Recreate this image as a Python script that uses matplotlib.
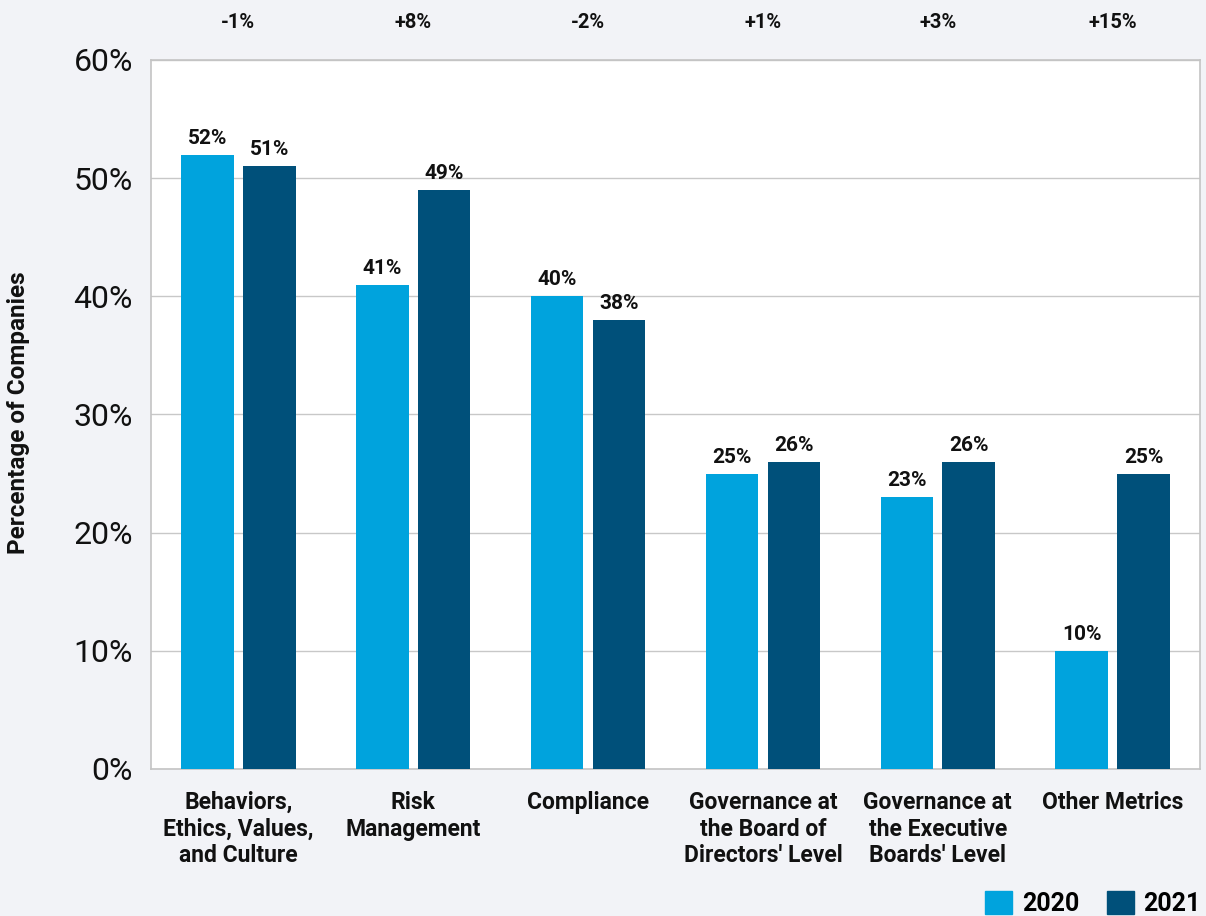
import numpy as np
import matplotlib
matplotlib.use("Agg")
import matplotlib.pyplot as plt
import matplotlib.transforms as mtransforms
from matplotlib.patches import Patch

plt.rcParams["font.family"] = ["Roboto", "DejaVu Sans"]

# данные
categories = [
    "Behaviors,\nEthics, Values,\nand Culture",
    "Risk\nManagement",
    "Compliance",
    "Governance at\nthe Board of\nDirectors' Level",
    "Governance at\nthe Executive\nBoards' Level",
    "Other Metrics",
]
values_2020 = [52, 41, 40, 25, 23, 10]
values_2021 = [51, 49, 38, 26, 26, 25]
changes = ["-1%", "+8%", "-2%", "+1%", "+3%", "+15%"]
y_ticks = [0, 10, 20, 30, 40, 50, 60]

c2020 = "#00a3dd"
c2021 = "#00507a"
bg = "#f2f3f7"

fig = plt.figure(figsize=(12.06, 9.16), dpi=100, facecolor=bg)
ax = fig.add_axes([0.1252, 0.1605, 0.8698, 0.774])
ax.set_facecolor("white")

x = np.arange(len(categories))
w = 0.30
off = 0.177
b1 = ax.bar(x - off, values_2020, w, color=c2020, zorder=3)
b2 = ax.bar(x + off, values_2021, w, color=c2021, zorder=3)

for bars in (b1, b2):
    for b in bars:
        ax.annotate(f"{b.get_height():.0f}%",
                    (b.get_x() + b.get_width() / 2, b.get_height()),
                    xytext=(0, 5), textcoords="offset points",
                    ha="center", va="bottom", fontsize=15, fontweight="bold",
                    color="#111111")

# изменения сверху
top_tr = mtransforms.blended_transform_factory(ax.transData, fig.transFigure)
for i, ch in enumerate(changes):
    ax.text(i, 1 - 22 / 916, ch, transform=top_tr,
            ha="center", va="center", fontsize=14.5, fontweight="bold",
            color="#111111")

ax.set_xlim(-0.5, len(categories) - 0.5)
ax.set_ylim(0, 60)
ax.set_yticks(y_ticks)
ax.set_yticklabels([f"{v}%" for v in y_ticks], fontsize=23, color="#111111")
ax.set_xticks(x)
ax.set_xticklabels(categories, fontsize=16.5, fontweight="bold", color="#111111",
                   linespacing=1.2)
ax.tick_params(axis="both", length=0)
ax.tick_params(axis="x", pad=16)
ax.tick_params(axis="y", pad=13)
ax.grid(axis="y", color="#c8c8c8", linewidth=1, zorder=0)

for s in ax.spines.values():
    s.set_color("#c4c4c4")
    s.set_linewidth(1.2)

fig.text(19 / 1206, 1 - 413 / 916, "Percentage of Companies", rotation=90,
         ha="center", va="center", fontsize=17.5, fontweight="bold", color="#111111")

handles = [Patch(color=c2020, label="2020"), Patch(color=c2021, label="2021")]
fig.legend(handles=handles, loc="lower right", bbox_to_anchor=(1201 / 1206, 0.0),
           ncol=2, frameon=False, prop={"size": 18, "weight": "bold"},
           borderpad=0, borderaxespad=0,
           handlelength=1.08, handleheight=1.08, columnspacing=1.1,
           handletextpad=0.4)

fig.savefig("out.png", dpi=100, facecolor=bg)
